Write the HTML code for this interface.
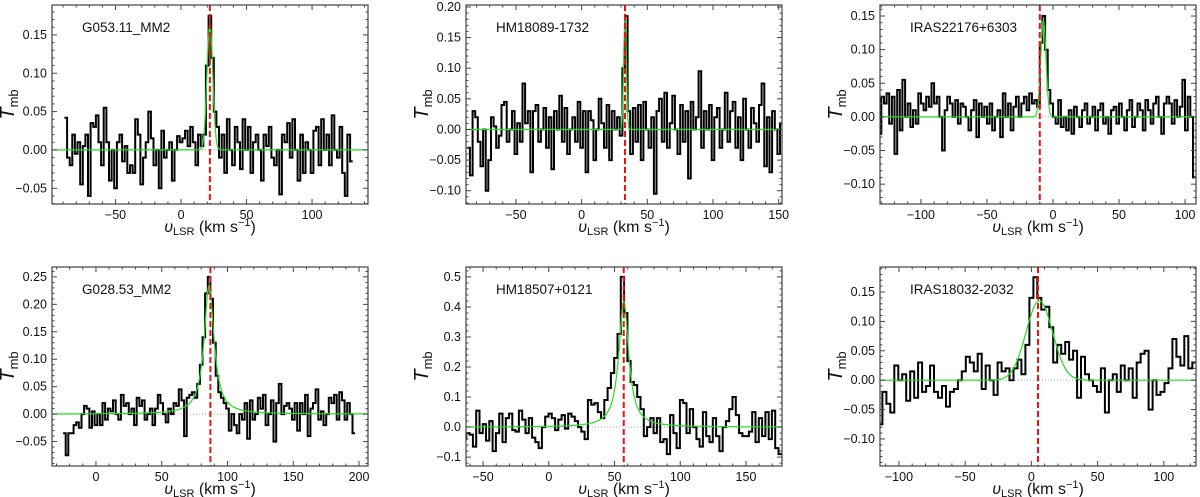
<!DOCTYPE html>
<html><head><meta charset="utf-8"><style>
body{margin:0;background:#fff;}
svg{display:block;font-family:"Liberation Sans",sans-serif;}
</style></head><body>
<svg id="fig" width="1200" height="497" viewBox="0 0 1200 497"></svg>
<script>
// ---- data ----
const names = ["G053.11_MM2","HM18089-1732","IRAS22176+6303","G028.53_MM2","HM18507+0121","IRAS18032-2032"];
const vStart = [-88,-86,-131,-24,-64,-114];
const vStep = [2,2,2,2,2.5,3];
const spec1 = [0.042,-0.01,-0.02,0.02,-0.005,0.01,-0.045,0.005,0.02,-0.06,0.035,0.03,0.045,0.01,-0.02,0.055,0.01,-0.04,0.0,-0.05,0.01,0.02,-0.015,0.005,-0.03,-0.02,-0.03,0.04,0.02,-0.045,-0.01,0.01,0.05,0.015,-0.02,0.0,-0.05,0.025,-0.01,0.0,0.01,-0.04,0.0,0.018,0.01,0.015,0.025,0.005,0.03,0.01,-0.02,0.02,0.005,0.02,0.11,0.175,0.12,0.05,0.03,-0.01,0.02,-0.03,0.04,0.0,-0.02,0.03,0.01,-0.025,0.04,0.0,0.03,-0.03,0.01,0.02,0.0,-0.04,0.02,0.005,0.03,-0.01,-0.02,0.0,-0.058,0.02,0.01,0.035,-0.01,0.04,0.0,-0.04,0.02,-0.03,0.01,0.0,-0.03,0.025,0.03,-0.02,0.04,0.0,0.02,-0.02,0.045,0.0,-0.01,0.03,-0.03,-0.06,0.02,-0.015];
const spec2 = [-0.03,-0.075,0.03,0.02,-0.02,-0.06,0.0,-0.1,-0.05,0.02,0.005,-0.03,-0.01,0.04,0.045,-0.02,0.0,0.03,-0.04,0.01,-0.02,0.075,0.01,0.03,-0.07,0.03,0.04,-0.02,0.0,0.035,-0.03,0.02,-0.065,0.03,0.0,0.055,-0.02,0.035,-0.04,0.0,0.02,-0.02,0.045,-0.03,0.03,-0.07,0.03,0.015,-0.05,0.0,0.05,0.01,-0.03,0.04,-0.05,0.03,0.0,0.02,-0.01,0.1,0.185,0.03,-0.04,0.035,-0.02,0.04,-0.05,0.045,0.0,-0.03,0.02,-0.105,0.03,0.05,-0.02,0.06,-0.03,0.01,0.055,0.0,-0.04,0.04,-0.02,0.03,-0.08,0.045,0.0,0.02,0.095,-0.03,0.03,0.0,0.04,-0.05,0.02,0.035,-0.03,0.0,0.06,-0.02,0.03,0.045,-0.03,0.02,-0.05,0.05,0.0,-0.03,0.035,0.01,-0.02,0.04,0.075,-0.06,0.02,-0.07,0.03,0.0,-0.04,0.01];
const spec3 = [-0.025,0.03,0.02,0.035,-0.01,0.03,-0.055,0.04,-0.02,0.055,0.0,0.02,-0.015,0.01,-0.01,0.035,0.02,0.01,0.03,0.015,0.05,0.02,0.03,0.0,-0.05,0.01,0.03,0.02,0.0,0.025,-0.01,0.02,0.015,0.0,-0.02,0.01,0.025,-0.03,0.02,0.0,0.015,-0.01,0.02,-0.02,0.0,0.01,-0.03,0.035,0.0,0.02,-0.02,0.015,0.03,0.0,0.02,0.03,0.01,0.035,0.02,0.025,0.015,0.11,0.15,0.10,0.04,0.02,0.0,-0.01,0.025,-0.015,0.0,-0.02,0.01,-0.025,0.015,0.0,-0.015,0.01,0.02,-0.01,0.0,0.015,-0.02,0.01,0.02,-0.01,0.0,-0.025,0.01,0.015,-0.01,0.02,0.0,-0.02,0.01,0.025,-0.015,0.0,0.02,0.01,-0.02,0.025,0.01,-0.01,0.02,0.03,0.0,-0.025,0.02,0.03,0.02,-0.01,0.025,0.0,0.015,0.055,-0.02,0.03,0.0,-0.09];
const spec4 = [-0.035,-0.075,-0.035,-0.035,-0.02,-0.015,-0.025,0.0,0.015,0.01,-0.025,0.005,-0.02,0.0,-0.02,0.02,-0.01,0.01,0.005,0.025,0.0,-0.01,0.035,0.015,0.02,0.0,0.01,-0.02,0.03,0.015,0.025,-0.01,0.0,0.01,-0.02,0.01,0.035,0.02,0.0,-0.015,0.01,0.0,0.02,0.015,0.045,0.025,-0.04,0.03,0.035,0.04,0.03,0.055,0.09,0.14,0.22,0.25,0.21,0.13,0.07,0.04,0.03,0.02,0.01,-0.03,0.0,-0.02,-0.035,0.0,-0.01,0.02,-0.045,0.025,-0.01,0.0,0.03,0.01,0.035,-0.02,0.0,0.025,-0.05,0.02,0.055,0.0,0.015,0.02,0.01,-0.01,0.02,-0.03,0.02,0.0,0.035,-0.04,0.01,0.02,0.045,-0.01,0.005,-0.02,0.0,0.03,0.02,0.035,-0.01,0.04,0.025,-0.01,0.02,0.0,-0.035];
const spec5 = [-0.04,-0.02,-0.025,-0.065,0.055,-0.02,0.01,-0.045,0.02,-0.08,-0.02,0.045,-0.05,0.03,0.045,-0.01,-0.015,0.055,0.025,-0.02,0.03,-0.035,-0.05,-0.07,0.0,0.035,0.045,0.03,-0.01,0.025,0.04,-0.005,0.045,0.035,0.02,0.0,-0.015,-0.04,0.09,0.075,0.08,0.05,0.03,0.09,0.13,0.18,0.23,0.31,0.5,0.38,0.22,0.15,0.14,0.1,0.06,-0.03,0.0,0.03,-0.02,0.03,-0.05,-0.04,-0.09,0.04,-0.02,-0.07,0.09,0.08,-0.02,0.06,0.0,-0.04,-0.065,0.05,-0.03,-0.05,0.03,-0.03,-0.08,0.0,0.02,0.06,0.1,0.04,-0.02,-0.03,-0.03,-0.015,0.05,-0.05,0.03,-0.03,0.05,-0.04,0.055,-0.07,-0.09];
const spec6 = [-0.075,-0.02,-0.04,-0.055,0.025,0.0,0.01,-0.035,0.015,-0.03,0.03,-0.02,-0.01,0.025,-0.02,-0.03,-0.01,-0.045,-0.02,-0.015,0.0,0.015,0.04,0.03,0.015,0.045,-0.015,0.025,0.0,-0.025,0.03,0.015,0.02,0.0,0.02,0.035,0.01,0.06,0.14,0.175,0.14,0.12,0.125,0.09,0.03,0.06,0.045,0.065,0.035,0.05,-0.03,0.04,0.01,0.0,-0.01,-0.02,0.02,-0.055,0.0,0.01,-0.02,0.025,0.0,0.02,-0.03,0.03,0.045,0.05,-0.05,0.0,-0.025,-0.02,-0.005,0.02,0.07,0.04,0.025,0.075,0.02,0.03];
const spectra = [spec1,spec2,spec3,spec4,spec5,spec6];
const fitAmp = [0.165,0.185,0.145,0.235,0.42,0.135];
const fitCenter = [22,33,-7.3,86,57,6];
const fitWidth = [2.2,1.0,2.0,4.5,4.5,10];
const fitType = ["g","g","g","l","l","g"];
const vlsr = [22,33,-10,87,57,5];
const xDomain = [[-98.5,142.7],[-88,152.5],[-131,108.3],[-33.4,206.8],[-63,177.4],[-114.3,124.3]];
const yDomain = [[-0.0705,0.189],[-0.1217,0.2032],[-0.1295,0.1664],[-0.0945,0.268],[-0.1296,0.533],[-0.146,0.1925]];
const xTicks = [[-50,0,50,100],[-50,0,50,100,150],[-100,-50,0,50,100],[0,50,100,150,200],[-50,0,50,100,150],[-100,-50,0,50,100]];
const yTicks = [[-0.05,0,0.05,0.10,0.15],[-0.10,-0.05,0,0.05,0.10,0.15,0.20],[-0.10,-0.05,0,0.05,0.10,0.15],[-0.05,0,0.05,0.10,0.15,0.20,0.25],[-0.1,0,0.1,0.2,0.3,0.4,0.5],[-0.10,-0.05,0,0.05,0.10,0.15]];
const yDec = [2,2,2,2,1,2];
// ---- layout ----
const colX=[52,466,880], rowY=[5,267], W=316, H=199;
const NS="http://www.w3.org/2000/svg";
const svg=document.getElementById('fig');
function mk(tag,attrs,parent){const e=document.createElementNS(NS,tag);for(const k in attrs)e.setAttribute(k,attrs[k]);(parent||svg).appendChild(e);return e;}
function fmt(v,d){const s=Math.abs(v).toFixed(d);return (v<0?"\u2212":"")+s;}
for(let p=0;p<6;p++){
  const x0=colX[p%3], y0=rowY[Math.floor(p/3)];
  const [xa,xb]=xDomain[p],[ya,yb]=yDomain[p];
  const X=v=>x0+(v-xa)/(xb-xa)*W;
  const Y=v=>y0+H-(v-ya)/(yb-ya)*H;
  const g=mk('g',{});
  
  
  const clip=mk('clipPath',{id:'c'+p},g);mk('rect',{x:x0,y:y0,width:W,height:H},clip);
  const inner=mk('g',{'clip-path':'url(#c'+p+')'},g);
  const zl=mk('line',{x1:x0,x2:x0+W,y1:Y(0),y2:Y(0),stroke:'#aaa','stroke-width':1,'stroke-dasharray':'1,2'},inner);
  
  
  const s=spectra[p];let d="";
  for(let i=0;i<s.length;i++){const v=vStart[p]+i*vStep[p];const xl=X(v-vStep[p]/2),xr=X(v+vStep[p]/2),yy=Y(s[i]);d+=(i?"L":"M")+xl.toFixed(1)+","+yy.toFixed(1)+"L"+xr.toFixed(1)+","+yy.toFixed(1);}
  const sp=mk('path',{d:d,fill:'none',stroke:'#000','stroke-width':2,'stroke-linejoin':'miter'},inner);
  
  
  let fd="";const n=400;
  for(let i=0;i<=n;i++){const v=xa+(xb-xa)*i/n;const u=(v-fitCenter[p])/fitWidth[p];const f=fitType[p]=="g"?fitAmp[p]*Math.exp(-0.5*u*u):fitAmp[p]/(1+u*u);fd+=(i?"L":"M")+X(v).toFixed(1)+","+Y(f).toFixed(1);}
  const fp=mk('path',{d:fd,fill:'none',stroke:'#22dd22','stroke-width':1.2},inner);
  
  
  const rl=mk('line',{x1:X(vlsr[p]),x2:X(vlsr[p]),y1:y0,y2:y0+H,stroke:'#ee1111','stroke-width':2,'stroke-dasharray':'6,3'},inner);
  
  
  const fr=mk('rect',{x:x0,y:y0,width:W,height:H,fill:'none',stroke:'#444','stroke-width':1.2},g);
  
  
  const xt=xTicks[p], xstep=xt[1]-xt[0], xmin=xstep/5;
  for(let v=Math.ceil(xa/xmin)*xmin;v<=xb;v+=xmin){const major=Math.abs(Math.round(v/xstep)*xstep-v)<1e-6;const L=major?5:2.5;const xx=X(v);
    mk('line',{x1:xx,x2:xx,y1:y0+H,y2:y0+H-L,stroke:'#444'},g);mk('line',{x1:xx,x2:xx,y1:y0,y2:y0+L,stroke:'#444'},g);}
  xt.forEach(v=>{const t=mk('text',{x:X(v),y:y0+H+15,'text-anchor':'middle','font-size':12.5,fill:'#111'},g);t.textContent=fmt(v,0);
    
    });
  const yt=yTicks[p], ystep=yt[1]-yt[0], ymin=ystep/5;
  for(let k=Math.ceil(ya/ymin);k*ymin<=yb;k++){const v=k*ymin;const major=(k%5)==0;const L=major?5:2.5;const yy=Y(v);
    mk('line',{x1:x0,x2:x0+L,y1:yy,y2:yy,stroke:'#444'},g);mk('line',{x1:x0+W,x2:x0+W-L,y1:yy,y2:yy,stroke:'#444'},g);}
  yt.forEach(v=>{const t=mk('text',{x:x0-5,y:Y(v)+4,'text-anchor':'end','font-size':12.5,fill:'#111'},g);t.textContent=fmt(v,yDec[p]);
    
    });
  const nm=mk('text',{x:x0+30,y:y0+27,'font-size':13.5,fill:'#111'},g);nm.textContent=names[p];
  
  
  const xl=mk('text',{x:x0+W/2,y:y0+H+28,'text-anchor':'middle','font-size':16,fill:'#111'},g);
  xl.innerHTML='<tspan font-style="italic">υ</tspan><tspan font-size="11" dy="3">LSR</tspan><tspan dy="-3"> (km s</tspan><tspan font-size="11" dy="-6">−1</tspan><tspan dy="6">)</tspan>';
  
  
  const yx=x0-38, yy=y0+H/2;
  const yl=mk('text',{x:yx,y:yy,'text-anchor':'middle','font-size':20,fill:'#111',transform:'rotate(-90 '+yx+' '+yy+')'},g);
  yl.innerHTML='<tspan font-style="italic">T</tspan><tspan font-size="13" dy="4">mb</tspan>';
  
  
}
</script>
</body></html>
